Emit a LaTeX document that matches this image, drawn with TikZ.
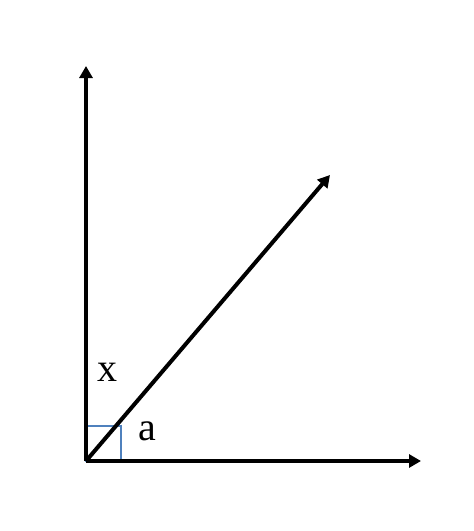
\documentclass[tikz,border=0pt]{standalone}
\usepackage{fontspec}
\setmainfont{Liberation Serif}
\usetikzlibrary{arrows.meta}
\definecolor{sqblue}{HTML}{4F81BD}
\begin{document}
\begin{tikzpicture}[x=1pt,y=-1pt,
  ray/.style={line width=4pt,-{Triangle[length=12pt,width=13pt]}},
  lbl/.style={font=\fontsize{40}{44}\selectfont,inner sep=0pt}]
\useasboundingbox (0,0) rectangle (474,531);
\coordinate (O) at (86,461);
\coordinate (T) at (86,66);
\coordinate (R) at (421,461);
\coordinate (D) at (330,175);
\draw[sqblue,line width=1.5pt] (O) rectangle (121,426);
\draw[ray] (O) -- (T);
\draw[ray] (O) -- (R);
\draw[ray] (O) -- (D);
\node[lbl] (x) at (107,372) {x};
\node[lbl] (a) at (147,431) {a};
\end{tikzpicture}
\end{document}
